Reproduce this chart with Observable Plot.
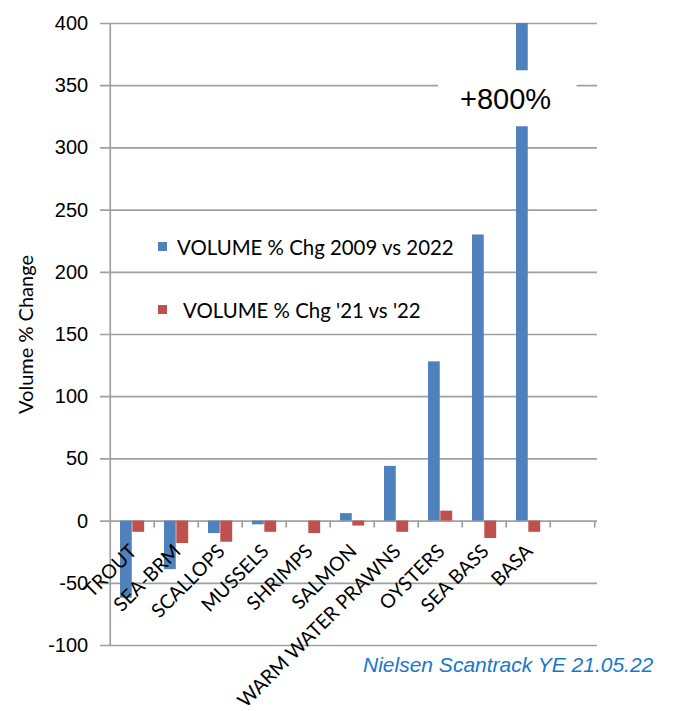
<!DOCTYPE html>
<html>
<head>
<meta charset="utf-8">
<script src="https://cdn.jsdelivr.net/npm/d3@7"></script>
<script src="https://cdn.jsdelivr.net/npm/@observablehq/plot@0.6"></script>
<style>
  body { margin: 0; background: #fff; }
  #wrap { position: relative; width: 675px; height: 711px; overflow: hidden; background: #fff; }
  .leg { position: absolute; font-family: Lato, "Open Sans", sans-serif; font-size: 20.4px; color: #000; white-space: nowrap; line-height: 1; }
  .sw { position: absolute; width: 9px; height: 9px; }
  #caption { position: absolute; left: 363px; top: 653px; font-family: "Liberation Sans", Arial, sans-serif; font-style: italic; font-size: 21px; color: #1777CC; white-space: nowrap; }
</style>
</head>
<body>
<div id="wrap"></div>
<script>
// ---- data ----
const categories = ["TROUT", "SEA-BRM", "SCALLOPS", "MUSSELS", "SHRIMPS", "SALMON", "WARM WATER PRAWNS", "OYSTERS", "SEA BASS", "BASA"];
const chg2009vs2022 = [-62, -39, -10, -3, 0, 6, 44, 128, 230, 800];
const chg21vs22 = [-9, -18, -17, -9, -10, -4, -9, 8, -14, -9];
const seriesNames = ["VOLUME % Chg 2009 vs 2022", "VOLUME % Chg '21 vs '22"];
const seriesColors = ["#4F81BD", "#C0504D"];
const yTicks = [-100, -50, 0, 50, 100, 150, 200, 250, 300, 350, 400];
const xDomain = [...categories, ""]; // trailing empty slot on the category axis
const breakNote = [{category: "BASA", from: 317, to: 362, label: "+800%"}];
const yTitle = "Volume % Change";
const captionText = "Nielsen Scantrack YE 21.05.22";

// ---- layout ----
const W = 675, H = 711;
const mL = 107, mR = 78, mT = 23, mB = 66;
const bw = (W - mL - mR) / xDomain.length;
const grid = "#a0a0a0";

const blue = categories.map((c, i) => ({category: c, value: chg2009vs2022[i]}));
const red = categories.map((c, i) => ({category: c, value: chg21vs22[i]}));

const chart = Plot.plot({
  width: W, height: H,
  marginLeft: mL, marginRight: mR, marginTop: mT, marginBottom: mB,
  style: {background: "#fff", overflow: "hidden"},
  x: {type: "band", domain: xDomain, padding: 0, axis: null},
  y: {domain: [yTicks[0], yTicks[yTicks.length - 1]], axis: null},
  marks: [
    // gridlines (extending past the axis as tick marks)
    Plot.ruleY(yTicks, {stroke: grid, strokeWidth: 1.7, insetLeft: -7}),
    // y axis line
    Plot.ruleX([xDomain[0]], {x: d => d, y1: () => yTicks[0], y2: () => yTicks[yTicks.length - 1], dx: -bw / 2, stroke: grid, strokeWidth: 1.7}),
    // category boundary ticks on the zero line
    Plot.ruleX(xDomain.slice(1), {x: d => d, y1: () => 0, y2: () => 0, insetBottom: -7, dx: -bw / 2, stroke: grid, strokeWidth: 1.7}),
    Plot.ruleX([xDomain[xDomain.length - 1]], {x: d => d, y1: () => 0, y2: () => 0, insetBottom: -7, dx: bw / 2, stroke: grid, strokeWidth: 1.7}),
    // bars
    Plot.barY(blue, {x: "category", y: "value", fill: seriesColors[0], insetLeft: 10, insetRight: bw - 22.3, clip: true}),
    Plot.barY(red, {x: "category", y: "value", fill: seriesColors[1], insetLeft: 22.3, insetRight: 9.8, clip: true}),
    // axis break annotation
    Plot.barY(breakNote, {x: "category", y1: "from", y2: "to", fill: "#fff", insetLeft: -68, insetRight: -26.5}),
    Plot.text(breakNote, {x: "category", y: d => (d.from + d.to) / 2, text: "label", dx: -23, dy: 1, fontSize: 29, fill: "#000", fontFamily: "Liberation Sans, Arial, sans-serif"}),
    // y tick labels
    Plot.text(yTicks, {x: () => xDomain[0], y: d => d, text: d => String(d), dx: -bw / 2 - 22, textAnchor: "end", fontSize: 20, fill: "#000", fontFamily: "Liberation Sans, Arial, sans-serif"}),
    // category labels
    Plot.text(categories, {x: d => d, y: () => 0, text: d => d, rotate: -45, textAnchor: "end", dx: 1, dy: 27, fontSize: 19.5, fill: "#000", fontFamily: "Lato, sans-serif"}),
    // y title
    Plot.text([yTitle], {frameAnchor: "left", text: d => d, rotate: -90, textAnchor: "middle", dx: -81, fontSize: 20, fill: "#000", fontFamily: "Lato, sans-serif"})
  ]
});

const wrap = document.getElementById("wrap");
wrap.appendChild(chart);

// legend
const legPos = [{sx: 158, sy: 242, tx: 177, ty: 237}, {sx: 158, sy: 305, tx: 183, ty: 300}];
seriesNames.forEach((name, i) => {
  const sw = document.createElement("div");
  sw.className = "sw";
  sw.style.left = legPos[i].sx + "px";
  sw.style.top = legPos[i].sy + "px";
  sw.style.background = seriesColors[i];
  wrap.appendChild(sw);
  const t = document.createElement("div");
  t.className = "leg";
  t.style.left = legPos[i].tx + "px";
  t.style.top = legPos[i].ty + "px";
  t.textContent = name;
  wrap.appendChild(t);
});

const cap = document.createElement("div");
cap.id = "caption";
cap.textContent = captionText;
wrap.appendChild(cap);
</script>
</body>
</html>
